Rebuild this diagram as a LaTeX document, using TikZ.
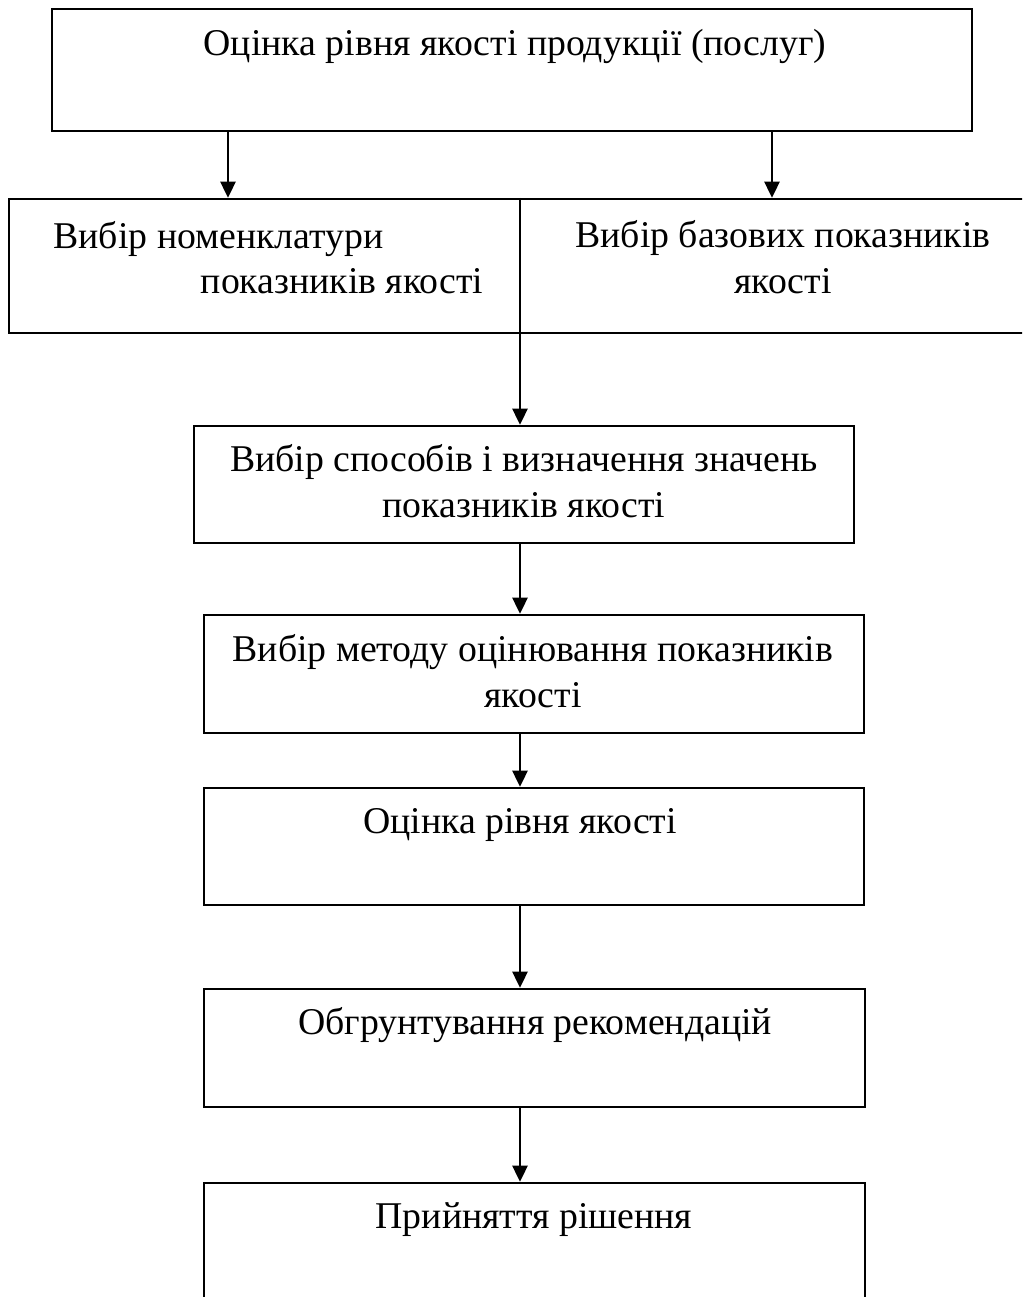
\documentclass[tikz,border=0pt]{standalone}
\usepackage{fontspec}
\setmainfont{Liberation Serif}
\usetikzlibrary{arrows.meta,fit}

\tikzset{
  blk/.style={draw, line width=0.85pt, inner sep=0pt},
  txt/.style={inner sep=0pt, font=\fontsize{13.6}{16.5}\selectfont, align=center},
  arr/.style={line width=0.85pt, -{Triangle[length=5.8pt, width=5.4pt]}}
}

\begin{document}
\begin{tikzpicture}[x=0.36pt, y=-0.36pt]
\useasboundingbox (0,0) rectangle (1022,1297);
\clip (0,0) rectangle (1022,1297);
% columns for the connectors
\coordinate (cl) at (228,0);
\coordinate (cr) at (772,0);
\coordinate (cm) at (520,0);
% boxes
\node (b1) [blk, fit={(52,9) (972,131)}] {};
\node (b2) [blk, fit={(9,199) (1060,333)}] {};
\node (b3) [blk, fit={(194,426) (854,543)}] {};
\node (b4) [blk, fit={(204,615) (864,733)}] {};
\node (b5) [blk, fit={(204,788) (864,905)}] {};
\node (b6) [blk, fit={(204,989) (865,1107)}] {};
\node (b7) [blk, fit={(204,1183) (865,1330)}] {};
% texts (base = last line)
\node (t1) [txt, anchor=base] at (515,55) {Оцінка рівня якості продукції (послуг)};
\node (t2a) [txt, anchor=base west] at (53,248) {Вибір номенклатури};
\node (t2b) [txt, anchor=base east] at (484,293) {показників якості};
\node (t2c) [txt, anchor=base] at (783,293) {Вибір базових показників\\якості};
\node (t3) [txt, anchor=base] at (524,517) {Вибір способів і визначення значень\\показників якості};
\node (t4) [txt, anchor=base] at (533,707) {Вибір методу оцінювання показників\\якості};
\node (t5) [txt, anchor=base] at (520,833) {Оцінка рівня якості};
\node (t6) [txt, anchor=base] at (535,1034) {Обгрунтування рекомендацій};
\node (t7) [txt, anchor=base] at (534,1228) {Прийняття рішення};
% connectors
\draw [arr] (b1.south -| cl) -- (b2.north -| cl);
\draw [arr] (b1.south -| cr) -- (b2.north -| cr);
\draw [arr] (b2.north -| cm) -- (b3.north -| cm);
\draw [arr] (b3.south -| cm) -- (b4.north -| cm);
\draw [arr] (b4.south -| cm) -- (b5.north -| cm);
\draw [arr] (b5.south -| cm) -- (b6.north -| cm);
\draw [arr] (b6.south -| cm) -- (b7.north -| cm);
\end{tikzpicture}
\end{document}
